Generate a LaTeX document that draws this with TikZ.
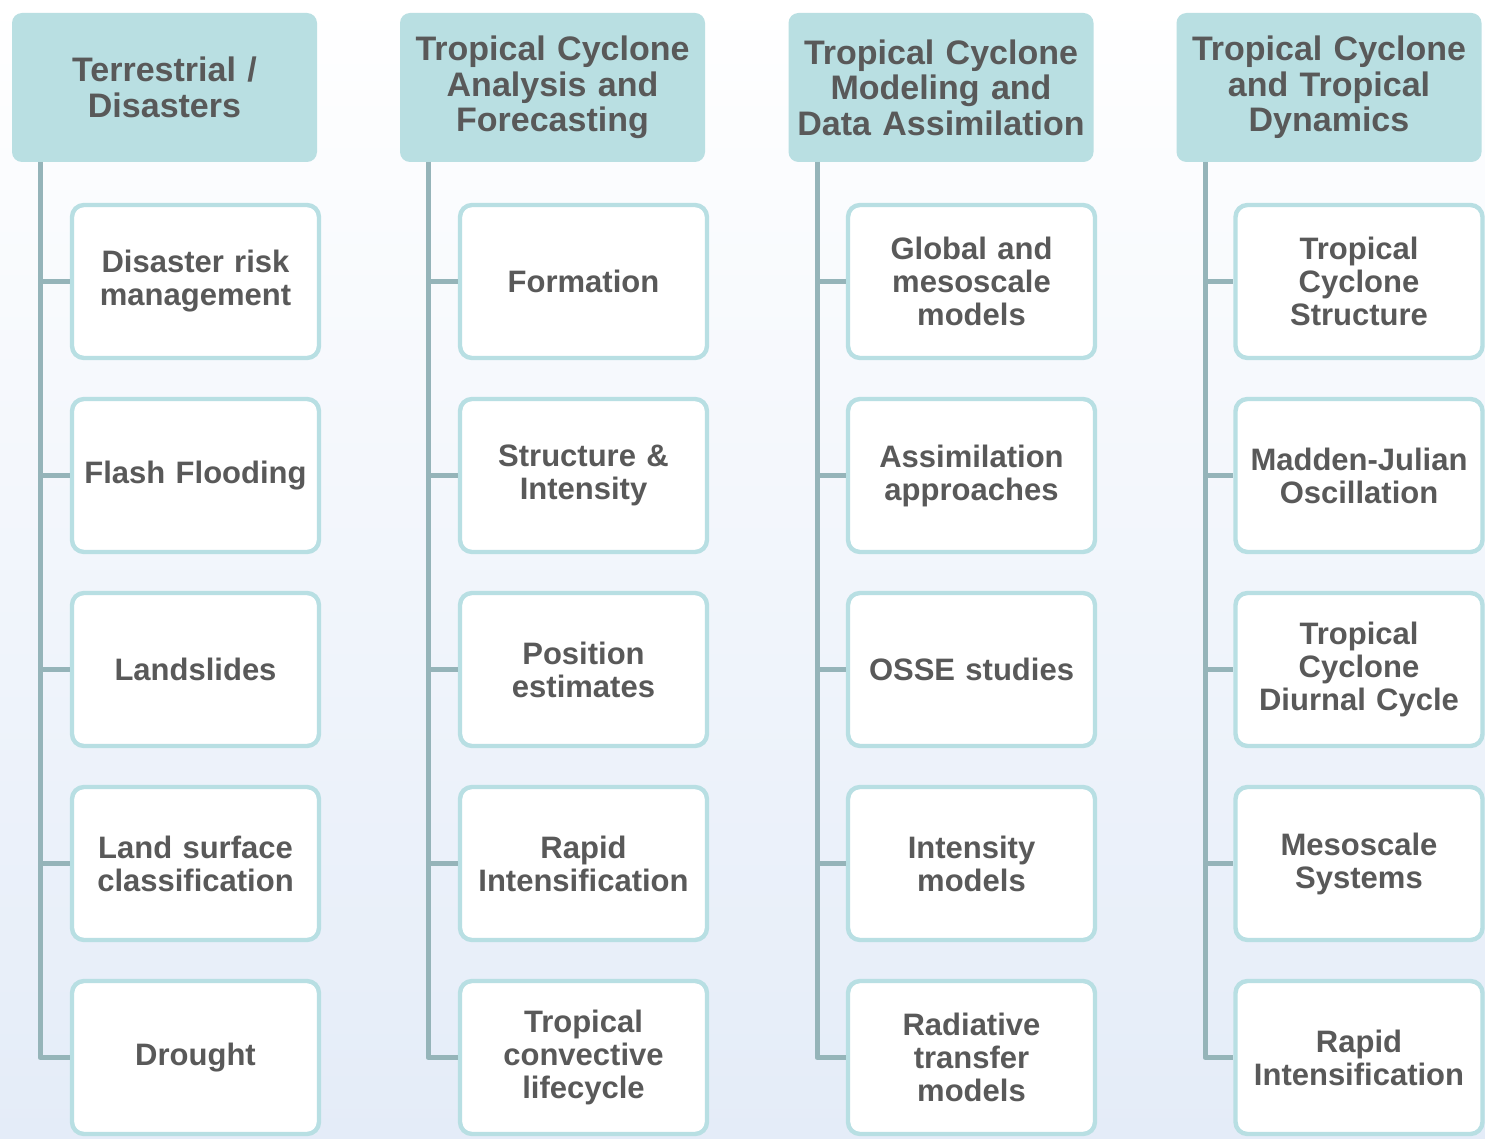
\documentclass[tikz,border=0pt]{standalone}
\usepackage{fontspec}
\setmainfont{Liberation Sans}
\definecolor{headfill}{RGB}{185,223,226}
\definecolor{boxline}{RGB}{184,223,227}
\definecolor{trunkcol}{RGB}{149,180,185}
\definecolor{txtgray}{RGB}{89,89,89}
\definecolor{skyblue}{RGB}{228,236,248}
\begin{document}
\begin{tikzpicture}[x=0.5pt, y=-0.5pt,
  head/.style={rectangle, rounded corners=5pt, fill=headfill, minimum width=152.5pt, minimum height=74.5pt, inner sep=0pt, text width=150pt, align=center, text=txtgray, font=\fontsize{17}{17.75}\selectfont\bfseries},
  topic/.style={rectangle, rounded corners=6pt, draw=boxline, line width=2.2pt, fill=white, minimum width=123.5pt, minimum height=76.5pt, inner sep=0pt, text width=123pt, align=center, text=txtgray, font=\fontsize{15.5}{16.5}\selectfont\bfseries},
  trunk/.style={draw=trunkcol, line width=2.5pt, line join=round}]
\useasboundingbox (0,0) rectangle (1485,1139);
\shade[top color=white, bottom color=skyblue] (0,0) rectangle (1485,1139);
% column 1
\node[head] (h1) at (164.5,87.5){Terrestrial /\\Disasters};
\node[topic] (c11) at (195.5,281.5){Disaster risk\\management};
\node[topic] (c12) at (195.5,475.5){Flash Flooding};
\node[topic] (c13) at (195.5,669.5){Landslides};
\node[topic] (c14) at (195.5,863.5){Land surface\\classification};
\node[topic] (c15) at (195.5,1057.5){Drought};
\coordinate (t1) at (40,162);
\draw[trunk](t1) |- (c15.west);
\draw[trunk](t1 |- c11.west) -- (c11.west);
\draw[trunk](t1 |- c12.west) -- (c12.west);
\draw[trunk](t1 |- c13.west) -- (c13.west);
\draw[trunk](t1 |- c14.west) -- (c14.west);
% column 2
\node[head] (h2) at (552.5,87.5){Tropical Cyclone\\Analysis and\\Forecasting};
\node[topic] (c21) at (583.5,281.5){Formation};
\node[topic] (c22) at (583.5,475.5){Structure \&\\Intensity};
\node[topic] (c23) at (583.5,669.5){Position\\estimates};
\node[topic] (c24) at (583.5,863.5){Rapid\\Intensification};
\node[topic] (c25) at (583.5,1057.5){Tropical\\convective\\lifecycle};
\coordinate (t2) at (428,162);
\draw[trunk](t2) |- (c25.west);
\draw[trunk](t2 |- c21.west) -- (c21.west);
\draw[trunk](t2 |- c22.west) -- (c22.west);
\draw[trunk](t2 |- c23.west) -- (c23.west);
\draw[trunk](t2 |- c24.west) -- (c24.west);
% column 3
\node[head] (h3) at (941,87.5){Tropical Cyclone\\Modeling and\\Data Assimilation};
\node[topic] (c31) at (971.5,281.5){Global and\\mesoscale\\models};
\node[topic] (c32) at (971.5,475.5){Assimilation\\approaches};
\node[topic] (c33) at (971.5,669.5){OSSE studies};
\node[topic] (c34) at (971.5,863.5){Intensity\\models};
\node[topic] (c35) at (971.5,1057.5){Radiative\\transfer\\models};
\coordinate (t3) at (817,162);
\draw[trunk](t3) |- (c35.west);
\draw[trunk](t3 |- c31.west) -- (c31.west);
\draw[trunk](t3 |- c32.west) -- (c32.west);
\draw[trunk](t3 |- c33.west) -- (c33.west);
\draw[trunk](t3 |- c34.west) -- (c34.west);
% column 4
\node[head] (h4) at (1329,87.5){Tropical Cyclone\\and Tropical\\Dynamics};
\node[topic] (c41) at (1359,281.5){Tropical\\Cyclone\\Structure};
\node[topic] (c42) at (1359,475.5){Madden-Julian\\Oscillation};
\node[topic] (c43) at (1359,669.5){Tropical\\Cyclone\\Diurnal Cycle};
\node[topic] (c44) at (1359,863.5){Mesoscale\\Systems};
\node[topic] (c45) at (1359,1057.5){Rapid\\Intensification};
\coordinate (t4) at (1205,162);
\draw[trunk](t4) |- (c45.west);
\draw[trunk](t4 |- c41.west) -- (c41.west);
\draw[trunk](t4 |- c42.west) -- (c42.west);
\draw[trunk](t4 |- c43.west) -- (c43.west);
\draw[trunk](t4 |- c44.west) -- (c44.west);
\end{tikzpicture}
\end{document}
